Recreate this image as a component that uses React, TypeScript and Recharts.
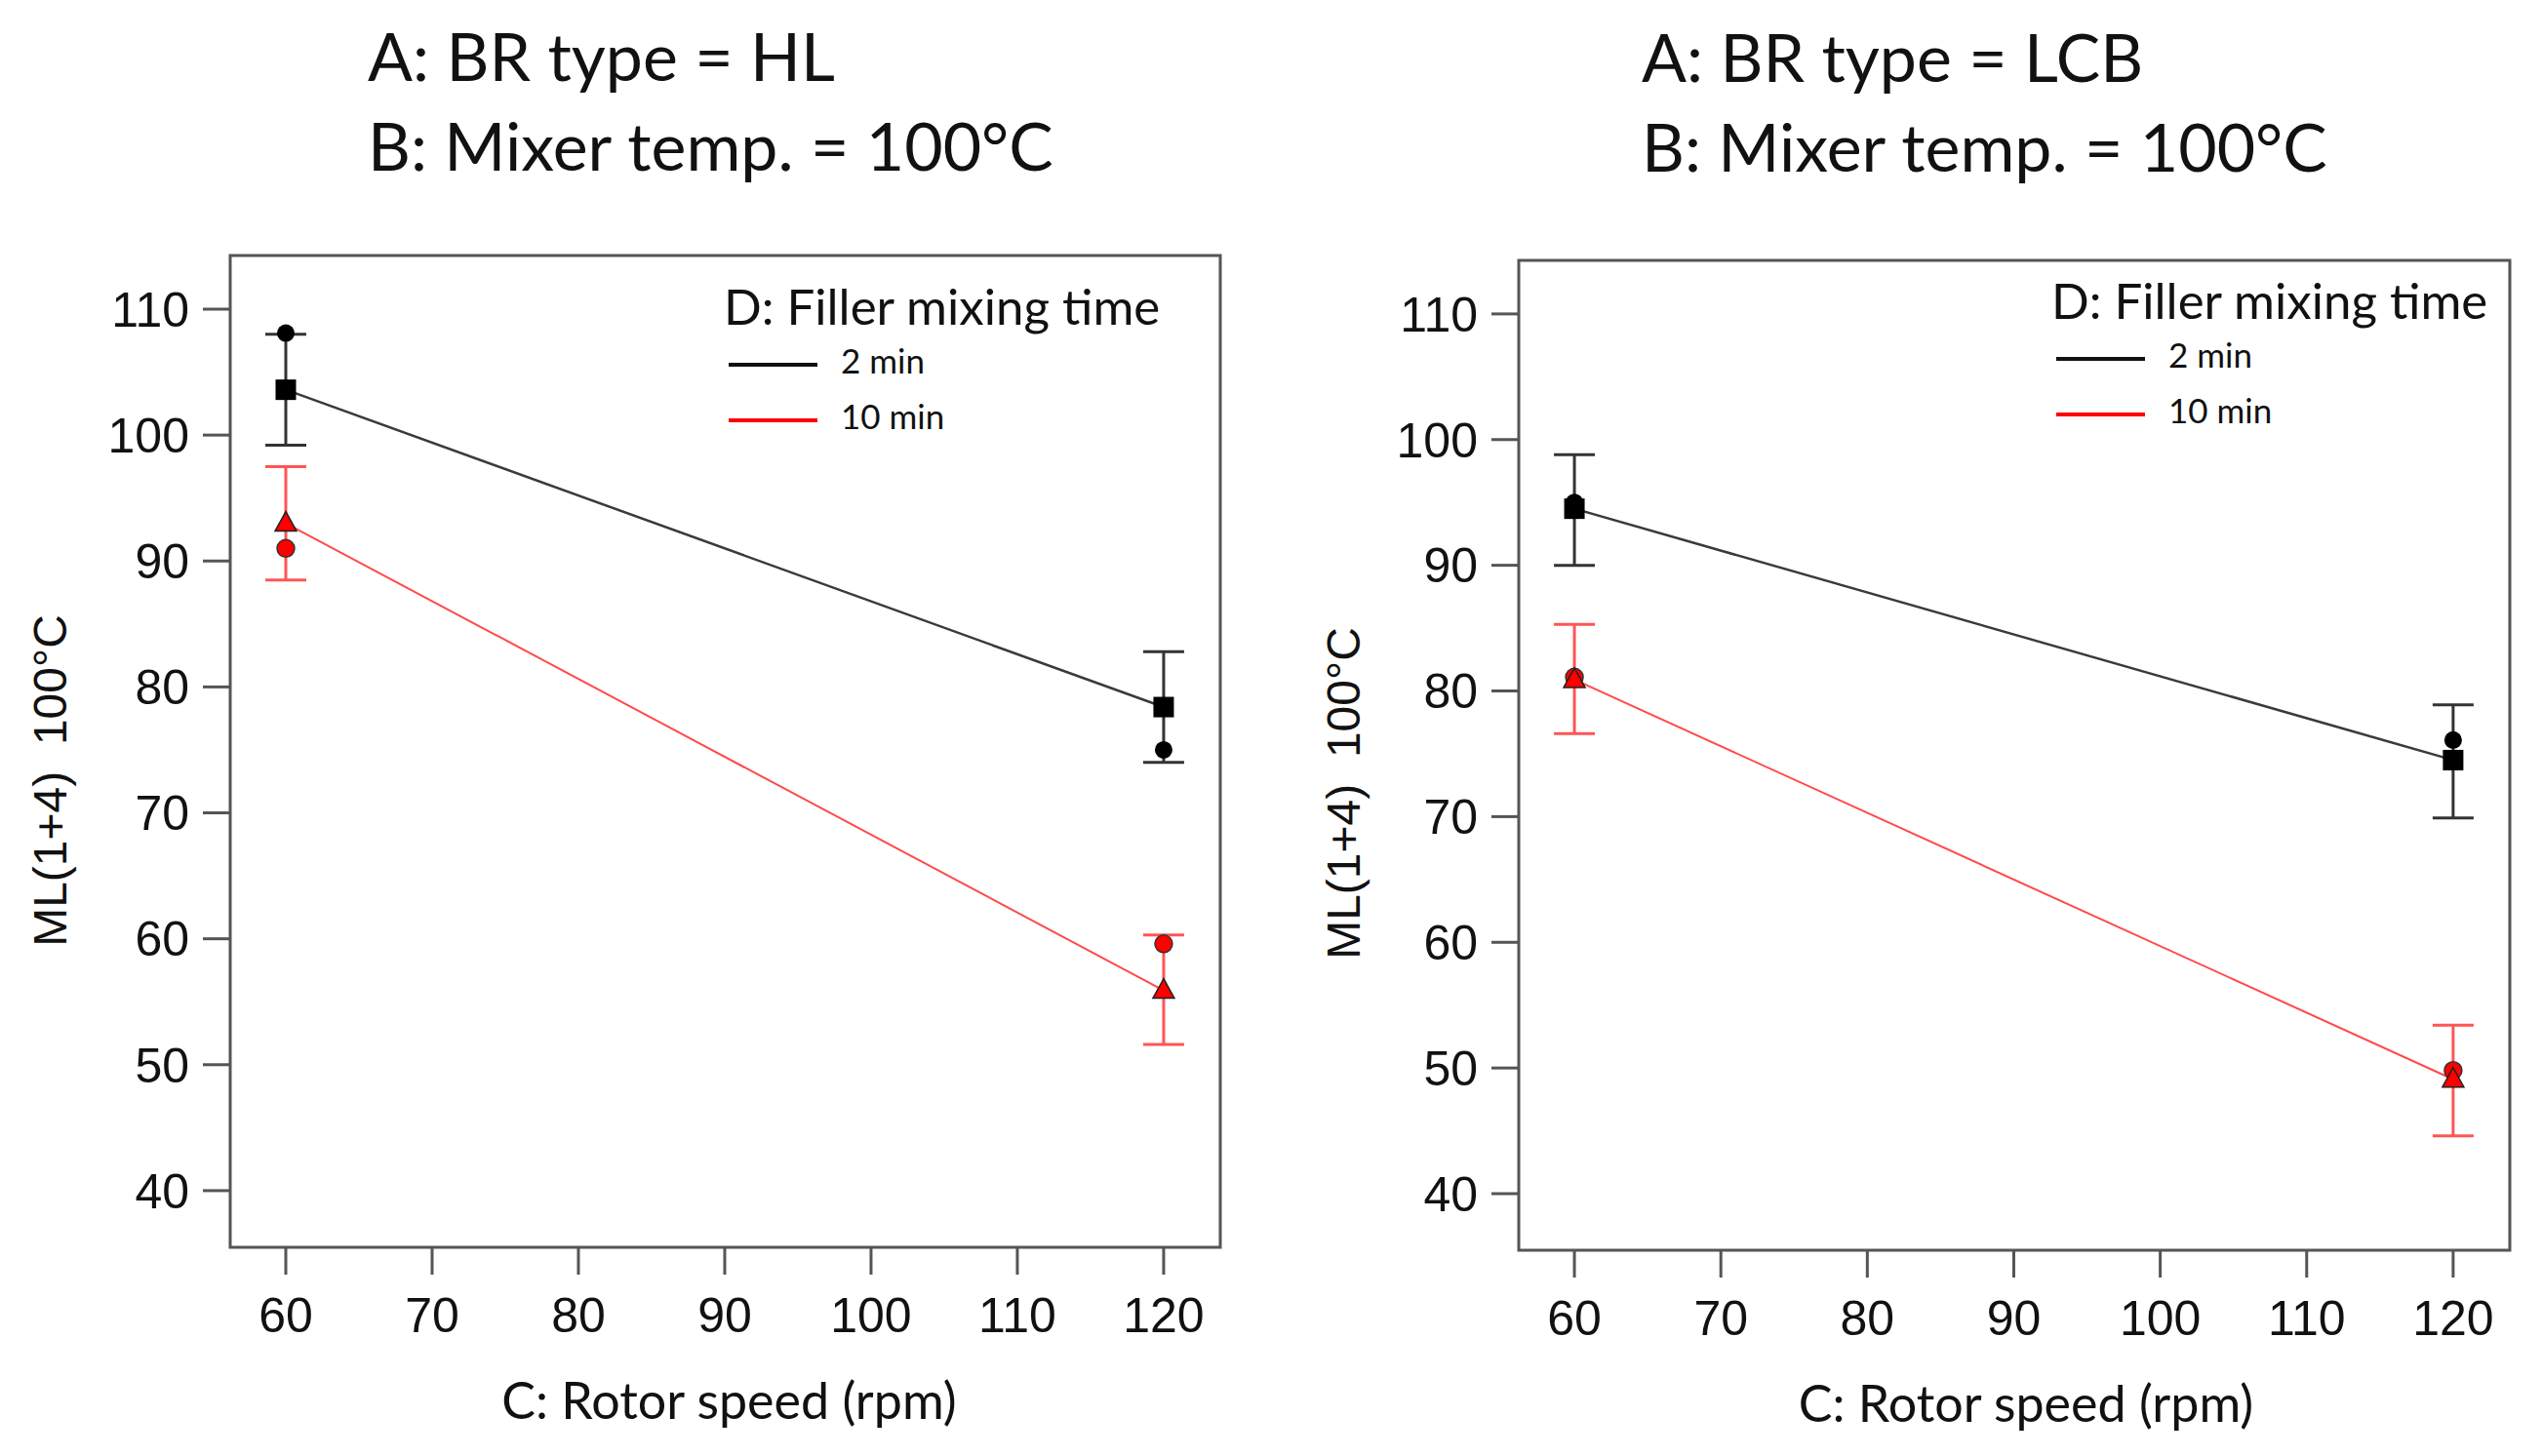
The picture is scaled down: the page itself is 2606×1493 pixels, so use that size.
import React from 'react';
import {
  ComposedChart,
  Line,
  Scatter,
  XAxis,
  YAxis,
  ErrorBar,
  ReferenceArea,
  Legend,
} from 'recharts';

// rotor speed levels (rpm) and axis ticks
const rpmLevels = [60, 120];
const xTicks = [60, 70, 80, 90, 100, 110, 120];
const yTicks = [40, 50, 60, 70, 80, 90, 100, 110];
const xDomain = [56.2, 123.87];
const yDomain = [35.5, 114.26];

// A: BR type = HL
const hl2MinMean = [103.6, 78.4];
const hl2MinLow = [99.2, 74.0];
const hl2MinHigh = [108.0, 82.8];
const hl2MinActual = [108.1, 75.0];
const hl10MinMean = [93.0, 55.9];
const hl10MinLow = [88.5, 51.6];
const hl10MinHigh = [97.5, 60.3];
const hl10MinActual = [91.0, 59.6];

// A: BR type = LCB
const lcb2MinMean = [94.5, 74.5];
const lcb2MinLow = [90.0, 69.9];
const lcb2MinHigh = [98.8, 78.9];
const lcb2MinActual = [95.0, 76.1];
const lcb10MinMean = [80.9, 49.1];
const lcb10MinLow = [76.6, 44.6];
const lcb10MinHigh = [85.3, 53.4];
const lcb10MinActual = [81.1, 49.8];

const legendTitle = 'D: Filler mixing time';
const legendLabels = ['2 min', '10 min'];
const yLabel = 'ML(1+4)\u00a0\u00a0100°C';
const xLabel = 'C: Rotor speed (rpm)';

const BLACK = '#000';
const LINE_BLACK = '#3a3a3a';
const RED = '#ff0000';
const LINE_RED = '#ff4a4a';
const FRAME = '#555';
const TEXT_FONT = 'Lato, "Open Sans", sans-serif';
const NUM_FONT = '"Liberation Sans", Arial, sans-serif';

const W = 1303;
const H = 1493;

function toRows(mean: number[], low: number[], high: number[]) {
  return rpmLevels.map((rpm, i) => ({
    rpm,
    ml: mean[i],
    err: [mean[i] - low[i], high[i] - mean[i]],
  }));
}

function toPoints(values: number[]) {
  return rpmLevels.map((rpm, i) => ({ rpm, ml: values[i] }));
}

const squareDot = (props: any) => {
  const { cx, cy, index } = props;
  return <rect key={`sq-${index}`} x={cx - 10.5} y={cy - 10.5} width={21} height={21} fill={BLACK} />;
};

const triangleDot = (props: any) => {
  const { cx, cy, index } = props;
  return (
    <polygon
      key={`tri-${index}`}
      points={`${cx},${cy - 12} ${cx - 11},${cy + 8} ${cx + 11},${cy + 8}`}
      fill={RED}
      stroke="#222"
      strokeWidth={1.5}
    />
  );
};

const blackCircle = (props: any) => <circle cx={props.cx} cy={props.cy} r={9} fill={BLACK} />;
const redCircle = (props: any) => (
  <circle cx={props.cx} cy={props.cy} r={9} fill={RED} stroke="#333" strokeWidth={1.5} />
);

interface PanelProps {
  left: number;
  box: { left: number; top: number; right: number; bottom: number };
  mean2: number[];
  low2: number[];
  high2: number[];
  actual2: number[];
  mean10: number[];
  low10: number[];
  high10: number[];
  actual10: number[];
  legendX: number;
  legendY: number;
  yLabelDx: number;
  yLabelDy: number;
  xLabelDx: number;
}

function Panel({
  left,
  box,
  mean2,
  low2,
  high2,
  actual2,
  mean10,
  low10,
  high10,
  actual10,
  legendX,
  legendY,
  yLabelDx,
  yLabelDy,
  xLabelDx,
}: PanelProps) {
  const rows2 = toRows(mean2, low2, high2);
  const rows10 = toRows(mean10, low10, high10);

  return (
    <div style={{ position: 'absolute', left, top: 0 }}>
      <ComposedChart
        width={W}
        height={H}
        margin={{ top: box.top, left: box.left - 100, right: W - box.right, bottom: H - box.bottom - 100 }}
      >
        <XAxis
          type="number"
          dataKey="rpm"
          domain={xDomain}
          ticks={xTicks}
          allowDataOverflow
          height={100}
          tickSize={28}
          tickMargin={23}
          axisLine={false}
          tickLine={{ stroke: FRAME, strokeWidth: 3 }}
          tick={{ fill: '#111', fontSize: 50, fontFamily: NUM_FONT }}
          label={{
            content: ({ viewBox }: any) => (
              <text
                x={viewBox.x + viewBox.width / 2 + xLabelDx}
                y={viewBox.y + 176}
                textAnchor="middle"
                fontSize={52}
                fontFamily={TEXT_FONT}
                fill="#111"
              >
                {xLabel}
              </text>
            ),
          }}
        />
        <YAxis
          type="number"
          dataKey="ml"
          domain={yDomain}
          ticks={yTicks}
          allowDataOverflow
          width={100}
          tickSize={28}
          tickMargin={14}
          axisLine={false}
          tickLine={{ stroke: FRAME, strokeWidth: 3 }}
          tick={{ fill: '#111', fontSize: 50, fontFamily: NUM_FONT }}
          label={{
            content: ({ viewBox }: any) => {
              const x = viewBox.x + viewBox.width - yLabelDx;
              const y = viewBox.y + viewBox.height / 2 + yLabelDy;
              return (
                <text
                  x={x}
                  y={y}
                  transform={`rotate(-90, ${x}, ${y})`}
                  textAnchor="middle"
                  fontSize={48}
                  fontFamily={NUM_FONT}
                  fill="#111"
                >
                  {yLabel}
                </text>
              );
            },
          }}
        />
        <ReferenceArea
          x1={xDomain[0]}
          x2={xDomain[1]}
          y1={yDomain[0]}
          y2={yDomain[1]}
          fill="none"
          fillOpacity={0}
          stroke={FRAME}
          strokeWidth={3}
        />
        <Line
          data={rows2}
          dataKey="ml"
          stroke={LINE_BLACK}
          strokeWidth={2.5}
          dot={squareDot}
          activeDot={false}
          isAnimationActive={false}
        >
          <ErrorBar dataKey="err" direction="y" width={21} stroke="#333" strokeWidth={3} isAnimationActive={false} />
        </Line>
        <Line
          data={rows10}
          dataKey="ml"
          stroke={LINE_RED}
          strokeWidth={2}
          dot={triangleDot}
          activeDot={false}
          isAnimationActive={false}
        >
          <ErrorBar dataKey="err" direction="y" width={21} stroke="#ff5555" strokeWidth={3} isAnimationActive={false} />
        </Line>
        <Scatter data={toPoints(actual2)} dataKey="ml" shape={blackCircle} isAnimationActive={false} />
        <Scatter data={toPoints(actual10)} dataKey="ml" shape={redCircle} isAnimationActive={false} />
        <Legend
          layout="horizontal"
          verticalAlign="middle"
          align="center"
          wrapperStyle={{ position: 'absolute', left: 0, top: 0, width: W, height: 480, pointerEvents: 'none' }}
          content={() => (
            <svg width={W} height={480} style={{ display: 'block' }}>
              <text x={legendX} y={legendY} fontSize={51} fontFamily={TEXT_FONT} fill="#111">
                {legendTitle}
              </text>
              {legendLabels.map((label, i) => (
                <g key={label}>
                  <line
                    x1={legendX + 5}
                    x2={legendX + 96}
                    y1={legendY + 41 + i * 57}
                    y2={legendY + 41 + i * 57}
                    stroke={i === 0 ? '#111' : RED}
                    strokeWidth={4}
                  />
                  <text
                    x={legendX + 120}
                    y={legendY + 50 + i * 57}
                    fontSize={35}
                    fontFamily={TEXT_FONT}
                    fill="#111"
                  >
                    {label}
                  </text>
                </g>
              ))}
            </svg>
          )}
        />
      </ComposedChart>
    </div>
  );
}

const titleLeft = ['A: BR type = HL', 'B: Mixer temp. = 100°C'];
const titleRight = ['A: BR type = LCB', 'B: Mixer temp. = 100°C'];

export default function App() {
  return (
    <div style={{ position: 'absolute', left: 0, top: 0, width: 2606, height: 1493, background: '#fff' }}>
      <svg width={2606} height={240} style={{ position: 'absolute', left: 0, top: 0 }}>
        {titleLeft.map((t, i) => (
          <text key={`l${i}`} x={377} y={83 + i * 92} fontSize={68} fontFamily={TEXT_FONT} fill="#111">
            {t}
          </text>
        ))}
        {titleRight.map((t, i) => (
          <text key={`r${i}`} x={1683} y={84 + i * 92} fontSize={68} fontFamily={TEXT_FONT} fill="#111">
            {t}
          </text>
        ))}
      </svg>
      <Panel
        left={0}
        box={{ left: 236, top: 262, right: 1251, bottom: 1279 }}
        mean2={hl2MinMean}
        low2={hl2MinLow}
        high2={hl2MinHigh}
        actual2={hl2MinActual}
        mean10={hl10MinMean}
        low10={hl10MinLow}
        high10={hl10MinHigh}
        actual10={hl10MinActual}
        legendX={742}
        legendY={333}
        yLabelDx={168}
        yLabelDy={30}
        xLabelDx={4}
      />
      <Panel
        left={1303}
        box={{ left: 254, top: 267, right: 1270, bottom: 1282 }}
        mean2={lcb2MinMean}
        low2={lcb2MinLow}
        high2={lcb2MinHigh}
        actual2={lcb2MinActual}
        mean10={lcb10MinMean}
        low10={lcb10MinLow}
        high10={lcb10MinHigh}
        actual10={lcb10MinActual}
        legendX={800}
        legendY={327}
        yLabelDx={163}
        yLabelDy={39}
        xLabelDx={12}
      />
    </div>
  );
}
